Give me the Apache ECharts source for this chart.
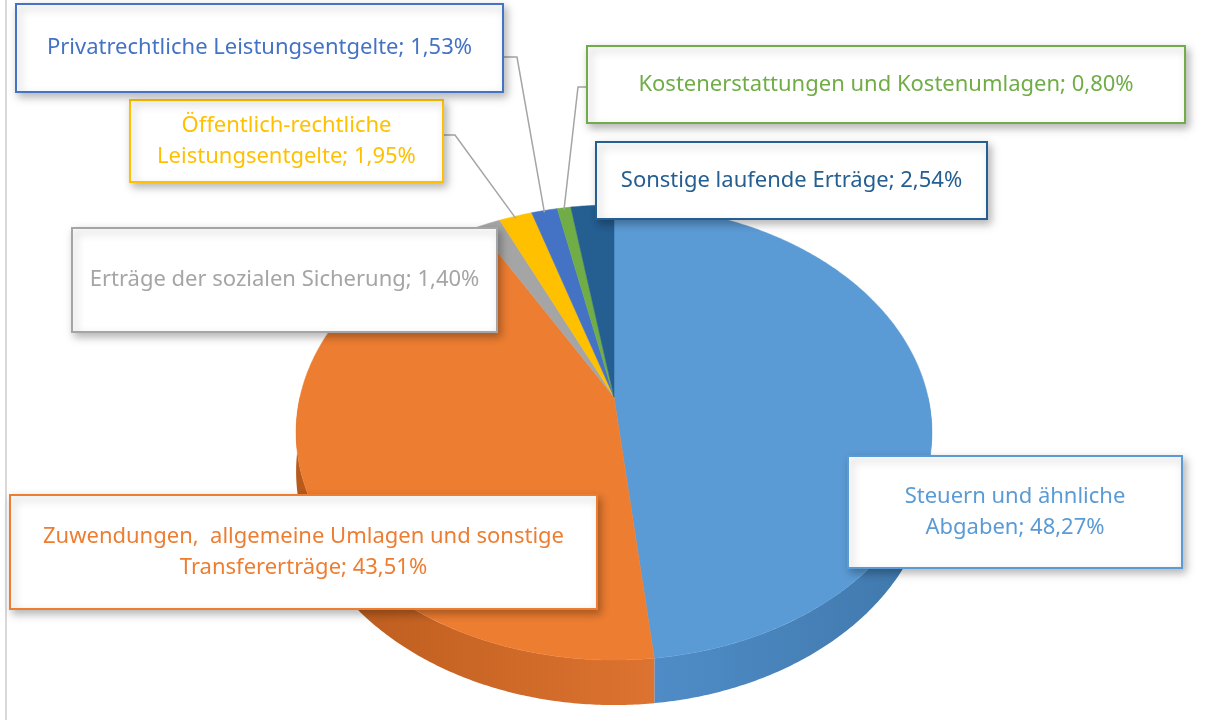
<!DOCTYPE html>
<html><head><meta charset="utf-8">
<script src="https://cdn.jsdelivr.net/npm/echarts@6/dist/echarts.min.js"></script>
<style>html,body{margin:0;padding:0;background:#fff}#c{width:1215px;height:720px}</style>
</head><body><div id="c"></div>
<script>
// ---- data ----
const categories = [
  'Steuern und ähnliche\nAbgaben',
  'Zuwendungen,  allgemeine Umlagen und sonstige\nTransfererträge',
  'Erträge der sozialen Sicherung',
  'Öffentlich-rechtliche\nLeistungsentgelte',
  'Privatrechtliche Leistungsentgelte',
  'Kostenerstattungen und Kostenumlagen',
  'Sonstige laufende Erträge'
];
const shares = [48.27, 43.51, 1.40, 1.95, 1.53, 0.80, 2.54];

// ---- style / layout ----
const colors = ['#5B9BD5', '#ED7D31', '#A5A5A5', '#FFC000', '#4472C4', '#70AD47', '#255E91'];
const sideColors = [['#3F77AA', '#4F8CC7'], ['#B85A1C', '#DD7330'], ['#888', '#999'], ['#D9A300', '#EEB400'], ['#355DA8', '#3F6ABB'], ['#5B903A', '#66A040'], ['#1E4E79', '#22567F']];
const boxes = [ // x, y, w, h
  [848, 456, 334, 112],
  [10, 495, 587, 114],
  [72, 228, 425, 104],
  [130, 100, 313, 82],
  [16, 4, 487, 88],
  [587, 46, 598, 77],
  [596, 142, 391, 77]
];
const leaders = {3: [443, 135, 455], 4: [503, 57, 517], 5: [587, 87, 578]};

const AX = 614, AY = 397, S = 314, T = 222, P = 0.156, H = 38;
function proj(deg, bottom) {
  const t = deg * Math.PI / 180;
  const X = Math.sin(t), Z = Math.cos(t);
  const k = 1 / (1 + P * Z);
  return [AX + S * X * k, AY + (-T * Z + (bottom ? H : 0)) * k];
}
const total = shares.reduce((a, b) => a + b, 0);
const starts = [];
{ let acc = 0; shares.forEach(v => { starts.push(acc / total * 360); acc += v; }); }

function arcPts(a, b, bottom) {
  const pts = [];
  const n = Math.max(2, Math.ceil(Math.abs(b - a) / 0.5));
  for (let i = 0; i <= n; i++) pts.push(proj(a + (b - a) * i / n, bottom));
  return pts;
}

function renderItem(params, api) {
  const i = params.dataIndex;
  const a0 = starts[i];
  const a1 = a0 + api.value(0) / total * 360;
  const children = [];
  const sa = Math.max(a0, 90), sb = Math.min(a1, 270);
  if (sb > sa) {
    const top = arcPts(sa, sb, false);
    const bot = arcPts(sa, sb, true).reverse();
    children.push({
      type: 'polygon', shape: {points: top.concat(bot)},
      style: {
        fill: new echarts.graphic.LinearGradient(0, 0, 1, 0, i === 0
          ? [{offset: 0, color: sideColors[i][1]}, {offset: 1, color: sideColors[i][0]}]
          : [{offset: 0, color: sideColors[i][0]}, {offset: 1, color: sideColors[i][1]}]),
        stroke: null
      }
    });
  }
  const pts = [[AX, AY]].concat(arcPts(a0, a1, false));
  children.push({type: 'polygon', shape: {points: pts}, style: {fill: colors[i], stroke: colors[i], lineWidth: 0.5}});
  return {type: 'group', children};
}

function fmt(v) { return v.toFixed(2).replace('.', ',') + '%'; }

const graphics = [{type: 'line', shape: {x1: 6, y1: 0, x2: 6, y2: 720}, style: {stroke: '#D9D9D9', lineWidth: 2}, z: 1}];
categories.forEach((name, i) => {
  const [x, y, w, h] = boxes[i];
  if (leaders[i]) {
    const [lx, ly, lx2] = leaders[i];
    const mid = starts[i] + shares[i] / total * 180;
    const p = proj(mid, false);
    graphics.push({type: 'polyline', shape: {points: [[lx, ly], [lx2, ly], [p[0], p[1] + 2]]},
      style: {stroke: '#A5A5A5', lineWidth: 1.5, fill: null}, z: 50});
  }
  graphics.push({
    type: 'rect', shape: {x: x, y: y, width: w, height: h}, z: 60,
    style: {fill: '#fff', stroke: colors[i], lineWidth: 2,
      shadowBlur: 8, shadowOffsetX: 3, shadowOffsetY: 4, shadowColor: 'rgba(0,0,0,0.28)'}
  });
  graphics.push({
    type: 'text', x: x + w / 2, y: y + h / 2, z: 61,
    style: {text: name + '; ' + fmt(shares[i]), fill: colors[i], font: '22px "Noto Sans"',
      align: 'center', verticalAlign: 'middle', lineHeight: 31}
  });
});

const chart = echarts.init(document.getElementById('c'), null, {renderer: 'canvas'});
chart.setOption({
  animation: false,
  backgroundColor: '#fff',
  series: [{
    type: 'custom', coordinateSystem: 'none', renderItem: renderItem,
    data: shares.map((v, i) => ({name: categories[i], value: [v]}))
  }],
  graphic: graphics
});
</script></body></html>
